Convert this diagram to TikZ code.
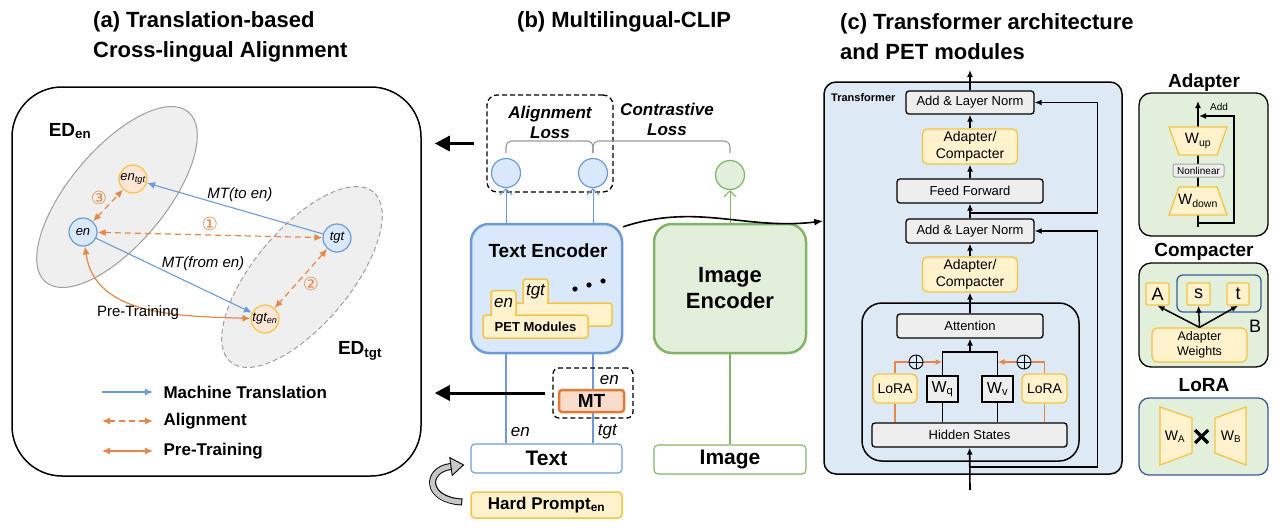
\documentclass[tikz,border=0pt]{standalone}
\usepackage{fontspec}
\setmainfont{Liberation Sans}
\newfontfamily\symfont{DejaVu Sans}
\usetikzlibrary{arrows.meta}

\definecolor{cblue}{HTML}{6C9BD8}
\definecolor{cbluefill}{HTML}{DAE8FC}
\definecolor{cyellow}{HTML}{F6C344}
\definecolor{cyellowfill}{HTML}{FFF2CC}
\definecolor{cpeach}{HTML}{FBE5D6}
\definecolor{corange}{HTML}{E6874A}
\definecolor{cmtline}{HTML}{E27A36}
\definecolor{cmtfill}{HTML}{F9DCCB}
\definecolor{cgreen}{HTML}{82B366}
\definecolor{cgreenfill}{HTML}{E2EFDA}
\definecolor{ctffill}{HTML}{DEE9F6}
\definecolor{cgrayfill}{HTML}{EEEEEE}
\definecolor{cnavy}{HTML}{3D5A98}
\definecolor{cedfill}{HTML}{EFEFEF}
\definecolor{cedline}{HTML}{9E9E9E}

\newcommand{\fsz}[1]{\fontsize{#1}{#1}\selectfont}

\begin{document}
\begin{tikzpicture}[x=1pt,y=1pt]
  \tikzset{ title/.style={font=\fontsize{22}{30}\selectfont\bfseries, align=left, anchor=west, inner sep=0pt},
    panel/.style={draw, line width=1.5pt, rounded corners=50pt},
    edset/.style={fill=cedfill, draw=cedline, line width=1pt},
    enode/.style={circle, draw=cblue, fill=cbluefill, line width=1.2pt, minimum size=28pt, inner sep=0pt, font=\fsz{13}\itshape},
    pnode/.style={enode, draw=cyellow, fill=cpeach},
    lbl/.style={font=\fsz{15}\itshape, inner sep=1pt},
    mtline/.style={draw=cblue, line width=1.1pt, -{Latex[length=8pt,width=7pt]}},
    alnline/.style={draw=corange, line width=1.2pt, dash pattern=on 6pt off 4pt, {Latex[length=8pt,width=7pt]}-{Latex[length=8pt,width=7pt]}},
    ptline/.style={draw=corange, line width=1.2pt, {Latex[length=8pt,width=7pt]}-{Latex[length=8pt,width=7pt]}},
    circnum/.style={font=\symfont\fsz{18}, text=corange, inner sep=0pt},
    legtxt/.style={font=\fsz{17}\bfseries, anchor=west, inner sep=0pt},
    bigarrow/.style={line width=3pt, -{Triangle[length=15pt,width=15pt]}},
    dashbox/.style={draw, line width=1.3pt, dash pattern=on 5pt off 3pt, rounded corners=10pt},
    losstxt/.style={font=\fontsize{17}{20}\selectfont\bfseries\itshape, align=center},
    bcirc/.style={circle, draw=cblue, fill=cbluefill, line width=1.2pt, minimum size=29pt, inner sep=0pt},
    gcirc/.style={bcirc, draw=cgreen, fill=cgreenfill},
    brace/.style={draw=gray!80, line width=1.1pt, rounded corners=6pt},
    uparr/.style={line width=1pt, -{Straight Barb[length=6pt,width=12pt]}},
    encbox/.style={line width=2.5pt, rounded corners=18pt},
    petbox/.style={draw=cyellow, fill=cyellowfill, line width=1.5pt, rounded corners=3pt, inner sep=0pt},
    inbox/.style={draw, line width=1.1pt, rounded corners=4pt, font=\fsz{21}\bfseries, inner sep=0pt},
    gbox/.style={draw, line width=1.3pt, fill=cgrayfill, rounded corners=3pt, font=\fsz{13}, inner sep=0pt},
    ybox/.style={draw=cyellow, line width=1.3pt, fill=cyellowfill, rounded corners=5pt, inner sep=0pt, align=center},
    arr/.style={line width=1.6pt, -{Latex[length=7pt,width=6pt]}},
    oarr/.style={draw=corange, line width=1.6pt, -{Latex[length=7pt,width=6pt]}},
    oplus/.style={circle, draw, fill=ctffill, line width=0.9pt, minimum size=14pt, inner sep=0pt,
      path picture={\draw[line width=0.9pt] (path picture bounding box.north) -- (path picture bounding box.south)
        (path picture bounding box.west) -- (path picture bounding box.east);}},
    modbox/.style={draw, line width=1.3pt, fill=cgreenfill, rounded corners=12pt},
    modtitle/.style={font=\fsz{19}\bfseries},
    trap/.style={draw=cyellow, fill=cyellowfill, line width=1.3pt},
  }
  \useasboundingbox (0,0) rectangle (1282,-530);

  % titles
  \node[title] (tta) at (93,-37) {(a) Translation-based\\Cross-lingual Alignment};
  \node[title] (ttb) at (517,-22) {(b) Multilingual-CLIP};
  \node[title] (ttc) at (840,-37) {(c) Transformer architecture\\and PET modules};

  % (a) cross-lingual alignment
  \node[panel, minimum width=409pt, minimum height=389pt] (pa) at (216.5,-281.5) {};
  \draw[edset, rotate around={50:(117,-197)}] (117,-197) ellipse (111 and 48);
  \draw[edset, dash pattern=on 5pt off 3pt, rotate around={50:(302,-277)}] (302,-277) ellipse (111 and 48);
  \node[font=\fsz{19}\bfseries] (eden) at (70,-131) {ED\textsubscript{en}};
  \node[font=\fsz{19}\bfseries] (edtgt) at (360,-351) {ED\textsubscript{tgt}};

  \node[enode] (en) at (83,-232) {en};
  \node[pnode] (entgt) at (133,-179) {en\textsubscript{tgt}};
  \node[enode] (tgt) at (337,-238) {tgt};
  \node[pnode] (tgten) at (265,-319) {tgt\textsubscript{en}};

  \draw[mtline] (tgt) -- (entgt) node[lbl, midway, above=5pt, xshift=5pt] {MT(to en)};
  \draw[mtline] (en) -- (tgten) node[lbl, midway, xshift=29pt, yshift=12pt] {MT(from en)};
  \draw[alnline] (en) -- (tgt) node[circnum, midway, above=4pt] {①};
  \draw[alnline] (tgt) -- (tgten) node[circnum, midway, xshift=10pt, yshift=-5pt] {②};
  \draw[alnline] (en) -- (entgt) node[circnum, midway, xshift=-9pt, yshift=8pt] {③};
  \draw[ptline] (en) to[out=-82, in=178] (tgten);
  \node[font=\fsz{15}] (ptlbl) at (138,-313) {Pre-Training};

  % legend
  \coordinate (lga) at (102,-392);
  \coordinate (lgb) at (102,-421);
  \coordinate (lgc) at (102,-451);
  \draw[mtline] (lga) -- ++(51,0) node[legtxt, right=10pt] {Machine Translation};
  \draw[alnline] (lgb) -- ++(51,0) node[legtxt, right=10pt] {Alignment};
  \draw[ptline] (lgc) -- ++(51,0) node[legtxt, right=10pt] {Pre-Training};

  % (b) multilingual CLIP
  \node[dashbox, minimum width=126pt, minimum height=97pt] (alnbox) at (550,-143.5) {};
  \node[losstxt] (alnlbl) at (550,-122) {Alignment\\Loss};
  \node[losstxt] (conlbl) at (667,-119) {Contrastive\\Loss};
  \node[bcirc] (o1) at (506,-173) {};
  \node[bcirc] (o2) at (593,-173) {};
  \node[gcirc] (o3) at (730,-175) {};
  \draw[brace] (506,-153) |- (593,-141) -- (593,-153);
  \draw[brace] (593,-153) -- (593,-141) -| (730,-153);

  \node[encbox, draw=cblue, fill=cbluefill, minimum width=151pt, minimum height=129pt] (tenc) at (546.5,-288.5) {};
  \node[font=\fsz{19}\bfseries] (tenclbl) at (548,-251) {Text Encoder};
  \node[encbox, draw=cgreen, fill=cgreenfill, minimum width=152pt, minimum height=129pt,
    font=\fontsize{22}{26}\selectfont\bfseries, align=center] (ienc) at (730,-288.5) {Image\\Encoder};

  % PET modules
  \node[petbox, minimum width=25pt, minimum height=25pt] (ptgt) at (535.5,-291.5) {};
  \node[font=\fsz{17}\itshape] at (ptgt) {tgt};
  \node[petbox, minimum width=97pt, minimum height=23pt] (pback) at (563.5,-314.5) {};
  \fill[cyellowfill] (524.3,-301) rectangle (546.7,-306);
  \node[petbox, minimum width=25pt, minimum height=25pt] (pen) at (503.5,-303) {};
  \node[font=\fsz{17}\itshape] at (pen) {en};
  \node[petbox, minimum width=105pt, minimum height=23pt, font=\fsz{13}\bfseries] (pfront) at (535.5,-326.5) {PET Modules};
  \fill[cyellowfill] (492.3,-312.5) rectangle (514.7,-317.5);
  \fill (575,-289) circle (2.6) (589,-285) circle (2.6) (603,-281) circle (2.6);

  \draw[uparr, draw=cblue] (tenc.north -| o1) -- (o1);
  \draw[uparr, draw=cblue] (tenc.north -| o2) -- (o2);
  \draw[uparr, draw=cgreen] (ienc.north) -- (o3);

  \node[inbox, draw=cblue, minimum width=151pt, minimum height=29pt] (txt) at (546.5,-458.5) {Text};
  \node[inbox, draw=cgreen, minimum width=152pt, minimum height=29pt] (img) at (730,-459.5) {Image};
  \node[inbox, draw=cyellow, fill=cyellowfill, line width=1.5pt, minimum width=151pt, minimum height=26pt,
    font=\fsz{17}\bfseries] (hp) at (546.5,-505) {Hard Prompt\textsubscript{en}};

  \draw[draw=cblue, line width=1.1pt] (txt.north -| o1) -- (tenc.south -| o1)
    node[pos=0.13, right=1pt, font=\fsz{17}\itshape] {en};
  \draw[draw=cblue, line width=1.1pt] (txt.north -| o2) -- (tenc.south -| o2)
    node[pos=0.13, right=1pt, font=\fsz{17}\itshape] {tgt}
    node[pos=0.71, right=3pt, font=\fsz{17}\itshape] {en};
  \draw[draw=cgreen, line width=1.1pt] (img) -- (ienc);
  \node[dashbox, rounded corners=6pt, minimum width=80pt, minimum height=50pt] (mtbox) at (593,-393) {};
  \node[draw=cmtline, fill=cmtfill, line width=2.5pt, rounded corners=3pt, minimum width=65pt, minimum height=22pt,
    inner sep=0pt, font=\fsz{19}\bfseries] (mt) at (591.5,-401) {MT};

  % curved arrow from hard prompt
  \coordinate (hpa) at ([xshift=-8pt,yshift=3pt]hp.west);
  \coordinate (hpb) at ([xshift=-20pt,yshift=-8pt]txt.west);
  \draw[line width=7pt] (hpa) .. controls (425,-500) and (425,-470) .. (hpb);
  \draw[line width=5pt, gray!45, shorten <=1pt] (hpa) .. controls (425,-500) and (425,-470) .. (hpb);
  \filldraw[fill=gray!45, line width=0.9pt] (449.8,-457.6) -- (463.5,-464.9) -- (452.2,-475.4) -- cycle;

  % arrows back to (a) and on to (c)
  \draw[bigarrow, shorten >=13pt] ([xshift=-12pt]alnbox.west) -- (alnbox.west -| pa.east);
  \draw[bigarrow, shorten >=13pt] ([xshift=-7pt]mtbox.west) -- (mtbox.west -| pa.east);

  % (c) transformer
  \node[draw, line width=1.5pt, fill=ctffill, rounded corners=12pt, minimum width=298pt, minimum height=392pt] (tf) at (973,-278) {};
  \node[font=\fsz{11}\bfseries, anchor=west, inner sep=0pt] (tflbl) at (831,-98) {Transformer};
  \coordinate (tfin) at (tf.west |- 0,-221);
  \draw[line width=1.6pt, -{Latex[length=9pt,width=7pt]}] ([yshift=-4pt]tenc.north east) to[out=18, in=187] (tfin);

  \node[gbox, minimum width=128pt, minimum height=23pt] (aln1) at (970,-102.5) {Add \& Layer Norm};
  \node[ybox, minimum width=95pt, minimum height=35pt, font=\fontsize{14}{17}\selectfont] (ad1) at (970,-146.5) {Adapter/\\Compacter};
  \node[gbox, minimum width=146pt, minimum height=24pt] (ff) at (970,-191) {Feed Forward};
  \node[gbox, minimum width=128pt, minimum height=24pt] (aln2) at (970,-231) {Add \& Layer Norm};
  \node[ybox, minimum width=95pt, minimum height=35pt, font=\fontsize{14}{17}\selectfont] (ad2) at (970,-274.5) {Adapter/\\Compacter};
  \node[draw, line width=1.5pt, rounded corners=20pt, minimum width=217pt, minimum height=158pt] (inner) at (970.5,-382) {};
  \node[gbox, minimum width=146pt, minimum height=24pt] (attn) at (970,-326) {Attention};
  \node[gbox, minimum width=195pt, minimum height=24pt] (hs) at (969.5,-435) {Hidden States};
  \node[gbox, rounded corners=0pt, minimum width=31pt, minimum height=26pt, font=\fsz{16}] (wq) at (942.5,-389) {W\textsubscript{q}};
  \node[gbox, rounded corners=0pt, minimum width=31pt, minimum height=26pt, font=\fsz{16}] (wv) at (997.5,-389) {W\textsubscript{v}};
  \node[ybox, minimum width=44pt, minimum height=29pt, font=\fsz{14}] (lorl) at (895,-388.5) {LoRA};
  \node[ybox, minimum width=45pt, minimum height=29pt, font=\fsz{14}] (lorr) at (1044.5,-388.5) {LoRA};

  \coordinate (join) at (970,-352);
  \coordinate (tfbot) at (970,-490);
  \coordinate (tftop) at (970,-70);
  \draw[line width=1.6pt] (hs.north -| wq) -- (wq);
  \draw[line width=1.6pt] (hs.north -| wv) -- (wv);
  \draw[line width=1.6pt] (wq.north) |- (join) -| (wv.north);
  \draw[arr] (join) -- (attn);
  \draw[oarr, -] (hs.north -| lorl) -- (lorl);
  \draw[oarr, -] (hs.north -| lorr) -- (lorr);
  \draw[oarr] (lorl.north) |- ([yshift=-10pt]join -| wq);
  \draw[oarr] (lorr.north) |- ([yshift=-10pt]join -| wv);
  \node[oplus] (pl) at (916,-362) {};
  \node[oplus] (pr) at (1024,-362) {};

  \draw[arr] (tfbot) -- (hs);
  \draw[arr] (attn) -- (ad2);
  \draw[arr] (ad2) -- (aln2);
  \draw[arr] (aln2) -- (ff);
  \draw[arr] (ff) -- (ad1);
  \draw[arr] (ad1) -- (aln1);
  \draw[arr] (aln1) -- (tftop);
  \coordinate (r1) at (970,-467);
  \coordinate (r2) at (970,-213);
  \draw[arr] (r1) -| ([xshift=63pt]aln2.east) -- (aln2.east);
  \draw[arr] (r2) -| ([xshift=63pt]aln1.east) -- (aln1.east);

  % Adapter
  \node[modtitle] (adt) at (1204,-83) {Adapter};
  \node[modbox, minimum width=129pt, minimum height=143pt] (adbox) at (1203.5,-164.5) {};
  \coordinate (adbot) at (1198,-227);
  \coordinate (adtop) at (1198,-101);
  \draw[line width=1.5pt, -{Latex[length=7pt,width=6pt]}] (adbot) -- (adtop);
  \draw[trap] (1169,-127) -- (1227,-127) -- (1217,-155) -- (1179,-155) -- cycle;
  \node[font=\fsz{15}] (wup) at (1198,-141) {W\textsubscript{up}};
  \node[draw=gray!70, fill=cgrayfill, line width=1pt, rounded corners=2pt, minimum width=51pt, minimum height=13pt,
    inner sep=0pt, font=\fsz{10}] (nl) at (1198.5,-170.5) {Nonlinear};
  \draw[trap] (1179,-187) -- (1217,-187) -- (1227,-215) -- (1169,-215) -- cycle;
  \node[font=\fsz{15}] (wdown) at (1198,-201) {W\textsubscript{down}};
  \coordinate (skipa) at (1198,-223);
  \coordinate (skipb) at (1199,-116);
  \draw[line width=1.5pt, -{Latex[length=7pt,width=6pt]}] (skipa) -| ([xshift=35pt]skipb) -- (skipb);
  \node[font=\fsz{10}, inner sep=0pt] (addlbl) at (1219,-107) {Add};

  % Compacter
  \node[modtitle] (cpt) at (1204,-252) {Compacter};
  \node[modbox, minimum width=129pt, minimum height=104pt] (cpbox) at (1203.5,-315) {};
  \node[draw=cnavy, line width=1.3pt, rounded corners=6pt, minimum width=84pt, minimum height=37pt] (bbox) at (1219,-293.5) {};
  \node[font=\fsz{18}] (blbl) at (1255,-326) {B};
  \node[ybox, rounded corners=1pt, minimum width=23pt, minimum height=22pt, font=\fsz{18}] (ma) at (1157.5,-294) {A};
  \node[ybox, rounded corners=1pt, minimum width=23pt, minimum height=22pt, font=\fsz{18}] (ms) at (1198.5,-294) {s};
  \node[ybox, rounded corners=1pt, minimum width=22pt, minimum height=22pt, font=\fsz{18}] (mt2) at (1238,-294) {t};
  \node[ybox, rounded corners=6pt, minimum width=95pt, minimum height=34pt, font=\fontsize{12.5}{15}\selectfont] (aw) at (1199.5,-345) {Adapter\\Weights};
  \draw[line width=1.5pt, -{Latex[length=7pt,width=6pt]}] (aw.north) -- (ma.south);
  \draw[line width=1.5pt, -{Latex[length=7pt,width=6pt]}] (aw.north) -- (ms.south);
  \draw[line width=1.5pt, -{Latex[length=7pt,width=6pt]}] (aw.north) -- (mt2.south);

  % LoRA
  \node[modtitle] (lrt) at (1204,-385) {LoRA};
  \node[modbox, draw=cnavy, rounded corners=10pt, minimum width=129pt, minimum height=77pt] (lrbox) at (1203.5,-436.5) {};
  \draw[trap] (1160,-407) -- (1192,-418) -- (1192,-453) -- (1160,-465) -- cycle;
  \node[font=\fsz{14}] (wa) at (1175,-437) {W\textsubscript{A}};
  \draw[trap] (1215,-418) -- (1246,-407) -- (1246,-465) -- (1215,-453) -- cycle;
  \node[font=\fsz{14}] (wb) at (1231,-437) {W\textsubscript{B}};
  \draw[line width=3.2pt] (1195,-430) -- (1208,-443) (1195,-443) -- (1208,-430);
\end{tikzpicture}
\end{document}
